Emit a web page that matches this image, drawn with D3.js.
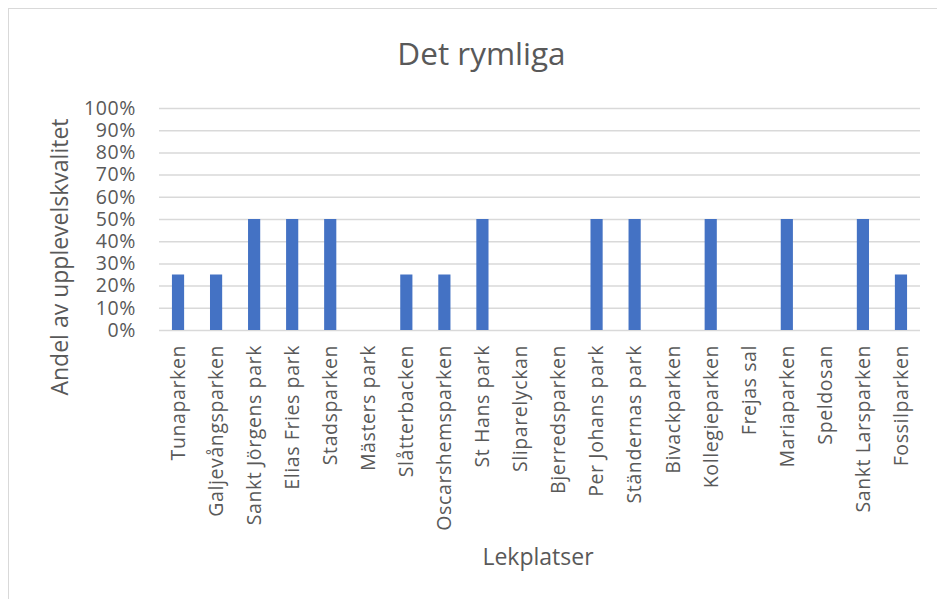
<!DOCTYPE html>
<html>
<head>
<meta charset="utf-8">
<script src="https://cdn.jsdelivr.net/npm/d3@7"></script>
<style>
  body { margin: 0; background: #fff; }
  svg text { font-family: "Open Sans", "Noto Sans", sans-serif; fill: #595959; }
</style>
</head>
<body>
<div id="chart"></div>
<script>
'use strict';

var categories = [
    'Tunaparken', 'Galjevångsparken', 'Sankt Jörgens park', 'Elias Fries park',
    'Stadsparken', 'Mästers park', 'Slåtterbacken', 'Oscarshemsparken',
    'St Hans park', 'Sliparelyckan', 'Bjerredsparken', 'Per Johans park',
    'Ständernas park', 'Bivackparken', 'Kollegieparken', 'Frejas sal',
    'Mariaparken', 'Speldosan', 'Sankt Larsparken', 'Fossilparken'
];
var values = [
    0.25, 0.25, 0.5, 0.5, 0.5, 0, 0.25, 0.25, 0.5, 0,
    0, 0.5, 0.5, 0, 0.5, 0, 0.5, 0, 0.5, 0.25
];
var yTicks = [0, 0.1, 0.2, 0.3, 0.4, 0.5, 0.6, 0.7, 0.8, 0.9, 1];

var W = 937,
    H = 599,
    plot = {left: 159, right: 920, top: 108, bottom: 330};

var svg = d3.select('#chart').append('svg')
    .attr('width', W)
    .attr('height', H);

// chart frame (right/bottom edges fall outside the picture)
svg.append('rect')
    .attr('x', 8.5).attr('y', 8.5)
    .attr('width', W + 10).attr('height', H + 10)
    .attr('fill', '#fff')
    .attr('stroke', '#d9d9d9')
    .attr('stroke-width', 1);

var x = d3.scaleBand()
    .domain(categories)
    .range([plot.left, plot.right])
    .paddingInner(0.68)
    .paddingOuter(0.34);

var y = d3.scaleLinear()
    .domain([0, 1])
    .range([plot.bottom, plot.top]);

// gridlines + y labels
var yAxis = d3.axisLeft(y)
    .tickValues(yTicks)
    .tickSize(-(plot.right - plot.left))
    .tickPadding(23)
    .tickFormat(d3.format('.0%'));

var gy = svg.append('g')
    .attr('transform', 'translate(' + plot.left + ',0)')
    .call(yAxis);
gy.select('.domain').remove();
gy.selectAll('line')
    .attr('stroke', '#d9d9d9')
    .attr('stroke-width', 1.5);
gy.selectAll('text')
    .style('font-size', '19.5px')
    .style('letter-spacing', '0.6px')
    .attr('fill', '#595959');

// bars
svg.append('g').selectAll('rect')
    .data(values)
    .enter().append('rect')
    .attr('x', function(d, i) { return x(categories[i]); })
    .attr('y', function(d) { return y(d); })
    .attr('width', x.bandwidth())
    .attr('height', function(d) { return y(0) - y(d); })
    .attr('fill', '#4472c4');

// x labels (rotated)
var xAxis = d3.axisBottom(x).tickSize(0).tickPadding(0);
var gx = svg.append('g')
    .attr('transform', 'translate(0,' + plot.bottom + ')')
    .call(xAxis);
gx.select('.domain').remove();
gx.selectAll('text')
    .style('font-size', '19.5px')
    .style('letter-spacing', '0.6px')
    .attr('fill', '#595959')
    .attr('text-anchor', 'end')
    .attr('dy', '0.35em')
    .attr('transform', 'translate(0,15) rotate(-90)');

// titles
svg.append('text')
    .attr('x', 481.5)
    .attr('y', 65)
    .attr('text-anchor', 'middle')
    .style('font-size', '31.5px')
    .text('Det rymliga');

svg.append('text')
    .attr('transform', 'translate(68,257) rotate(-90)')
    .attr('text-anchor', 'middle')
    .style('font-size', '23px')
    .text('Andel av upplevelskvalitet');

svg.append('text')
    .attr('x', 538)
    .attr('y', 565)
    .attr('text-anchor', 'middle')
    .style('font-size', '23px')
    .text('Lekplatser');
</script>
</body>
</html>
